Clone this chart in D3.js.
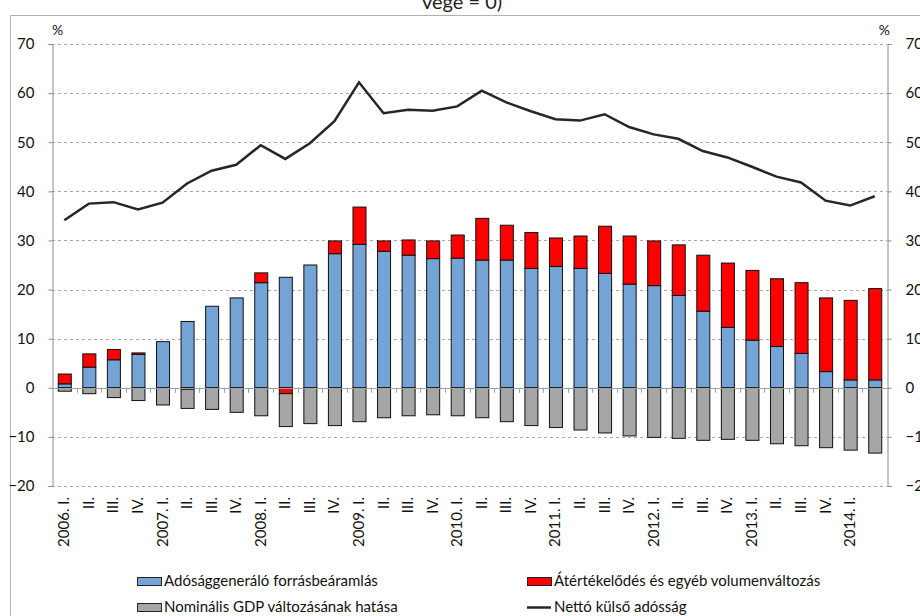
<!DOCTYPE html>
<html>
<head>
<meta charset="utf-8">
<script src="https://cdn.jsdelivr.net/npm/d3@7"></script>
<style>
    body { margin: 0; background: #fff; }
    svg { display: block; font-family: Lato, "Open Sans", sans-serif; }
</style>
</head>
<body>
<svg width="920" height="616"></svg>
<script>
const quarterLabels = ['2006. I.', 'II.', 'III.', 'IV.', '2007. I.', 'II.', 'III.', 'IV.', '2008. I.', 'II.', 'III.', 'IV.',
    '2009. I.', 'II.', 'III.', 'IV.', '2010. I.', 'II.', 'III.', 'IV.', '2011. I.', 'II.', 'III.', 'IV.',
    '2012. I.', 'II.', 'III.', 'IV.', '2013. I.', 'II.', 'III.', 'IV.', '2014. I.', ''];
const debtInflow = [0.8, 4.2, 5.7, 6.8, 9.4, 13.5, 16.6, 18.3, 21.4, 22.5, 25.0, 27.3, 29.2, 27.8, 27.0, 26.3, 26.4,
    26.0, 26.0, 24.3, 24.7, 24.3, 23.3, 21.1, 20.8, 18.8, 15.6, 12.3, 9.7, 8.4, 7.0, 3.3, 1.6, 1.6];
const revaluation = [2.0, 2.7, 2.1, 0.3, 0, -0.3, 0, 0, 2.0, -1.2, 0, 2.6, 7.6, 2.1, 3.1, 3.6, 4.7, 8.5, 7.1, 7.3, 5.8,
    6.6, 9.6, 9.8, 9.1, 10.3, 11.4, 13.1, 14.2, 13.8, 14.4, 15.0, 16.2, 18.6];
const gdpEffect = [-0.7, -1.2, -2.0, -2.6, -3.5, -3.9, -4.4, -5.0, -5.7, -6.7, -7.3, -7.7, -6.9, -6.1, -5.7, -5.5, -5.7,
    -6.1, -6.9, -7.7, -8.1, -8.6, -9.2, -9.8, -10.1, -10.3, -10.7, -10.5, -10.7, -11.4, -11.8, -12.2, -12.7, -13.3];
const netDebt = [34.1, 37.5, 37.8, 36.3, 37.7, 41.6, 44.2, 45.4, 49.4, 46.6, 49.8, 54.3, 62.2, 55.9, 56.6, 56.4, 57.3,
    60.5, 58.1, 56.3, 54.7, 54.4, 55.7, 53.1, 51.6, 50.7, 48.2, 46.9, 45.0, 43.0, 41.8, 38.1, 37.1, 39.0];
const yTicks = [-20, -10, 0, 10, 20, 30, 40, 50, 60, 70];

const seriesKeys = ['inflow', 'reval', 'gdp'];
const seriesNames = {
    inflow: 'Adósággeneráló forrásbeáramlás',
    reval: 'Átértékelődés és egyéb volumenváltozás',
    gdp: 'Nominális GDP változásának hatása',
    line: 'Nettó külső adósság'
};
const seriesColors = { inflow: '#74a3d5', reval: '#ff0000', gdp: '#a6a6a6', line: '#262626' };

const svg = d3.select('svg');
const plotLeft = 52, plotRight = 887, plotTop = 44, plotBottom = 486;

const rows = quarterLabels.map((label, i) => ({
    i, label, inflow: debtInflow[i], reval: revaluation[i], gdp: gdpEffect[i], debt: netDebt[i]
}));

const x = d3.scaleBand().domain(d3.range(rows.length)).range([plotLeft, plotRight]).paddingInner(0.47).paddingOuter(0.235);
const y = d3.scaleLinear().domain([-20, 70]).range([plotBottom, plotTop]);

// frame and title remnant
svg.append('rect')
    .attr('x', 10.5).attr('y', 15.5).attr('width', 930).attr('height', 640)
    .attr('fill', 'none').attr('stroke', '#b0b0b0');
svg.append('text')
    .attr('x', 462).attr('y', 9)
    .attr('text-anchor', 'middle')
    .attr('font-size', 20)
    .attr('fill', '#222')
    .text('vége = 0)');

// gridlines
svg.append('g').selectAll('line').data(yTicks.filter(t => t !== 0)).join('line')
    .attr('x1', plotLeft).attr('x2', plotRight)
    .attr('y1', d => Math.round(y(d)) + 0.5).attr('y2', d => Math.round(y(d)) + 0.5)
    .attr('stroke', '#a8a8a8').attr('stroke-dasharray', '3,3');

// axes
const axisLeft = svg.append('g').attr('transform', `translate(${plotLeft + 0.5},0)`)
    .call(d3.axisLeft(y).tickValues(yTicks).tickSize(4).tickPadding(14));
const axisRight = svg.append('g').attr('transform', `translate(${plotRight + 0.5},0)`)
    .call(d3.axisRight(y).tickValues(yTicks).tickSize(4).tickPadding(14));
[axisLeft, axisRight].forEach(g => {
    g.select('.domain').attr('stroke', '#8c8c8c');
    g.selectAll('.tick line').attr('stroke', '#8c8c8c');
    g.selectAll('.tick text').attr('font-size', 15).attr('fill', '#111').attr('font-family', 'Lato, sans-serif');
});

svg.append('text').attr('x', 52).attr('y', 35).attr('font-size', 14).attr('fill', '#111').text('%');
svg.append('text').attr('x', 890).attr('y', 35).attr('text-anchor', 'end').attr('font-size', 14).attr('fill', '#111').text('%');

// stacked bars
const stacked = d3.stack().keys(seriesKeys).offset(d3.stackOffsetDiverging)(rows);
svg.append('g').selectAll('g').data(stacked).join('g')
    .attr('fill', d => seriesColors[d.key])
    .selectAll('rect').data(d => d.filter(s => s[0] !== s[1])).join('rect')
    .attr('x', d => x(d.data.i) + 0.5)
    .attr('width', x.bandwidth())
    .attr('y', d => y(Math.max(d[0], d[1])))
    .attr('height', d => Math.abs(y(d[0]) - y(d[1])))
    .attr('stroke', '#111')
    .attr('stroke-width', 1);

// zero line and category ticks
svg.append('line')
    .attr('x1', plotLeft).attr('x2', plotRight)
    .attr('y1', Math.round(y(0)) + 0.5).attr('y2', Math.round(y(0)) + 0.5)
    .attr('stroke', '#a0a0a0').attr('stroke-width', 1.2);
svg.append('g').selectAll('line').data(d3.range(1, rows.length)).join('line')
    .attr('x1', d => Math.round(plotLeft + d * x.step()) + 0.5)
    .attr('x2', d => Math.round(plotLeft + d * x.step()) + 0.5)
    .attr('y1', y(0)).attr('y2', y(0) + 5)
    .attr('stroke', '#a0a0a0');

// debt line
svg.append('path')
    .datum(rows)
    .attr('fill', 'none')
    .attr('stroke', seriesColors.line)
    .attr('stroke-width', 2.5)
    .attr('stroke-linejoin', 'miter')
    .attr('d', d3.line().x(d => x(d.i) + x.bandwidth() / 2).y(d => y(d.debt)));

// x labels
svg.append('g').selectAll('text').data(rows).join('text')
    .attr('transform', d => `translate(${x(d.i) + x.bandwidth() / 2 + 5},${plotBottom + 11}) rotate(-90)`)
    .attr('text-anchor', 'end')
    .attr('font-size', 15)
    .attr('fill', '#111')
    .text(d => d.label);

// legend
const legendItems = [
    { key: 'inflow', x: 137, y: 581 },
    { key: 'reval', x: 527, y: 581 },
    { key: 'gdp', x: 137, y: 607 },
    { key: 'line', x: 527, y: 607 }
];
const legend = svg.append('g').selectAll('g').data(legendItems).join('g')
    .attr('transform', d => `translate(${d.x},${d.y})`);
legend.filter(d => d.key !== 'line').append('rect')
    .attr('x', 0.5).attr('y', -3.5).attr('width', 24).attr('height', 8)
    .attr('fill', d => seriesColors[d.key]).attr('stroke', '#222');
legend.filter(d => d.key === 'line').append('line')
    .attr('x1', 0).attr('x2', 24).attr('y1', 0.5).attr('y2', 0.5)
    .attr('stroke', seriesColors.line).attr('stroke-width', 2.5);
legend.append('text')
    .attr('x', 27).attr('y', 5)
    .attr('font-size', 15)
    .attr('fill', '#111')
    .text(d => seriesNames[d.key]);
</script>
</body>
</html>
